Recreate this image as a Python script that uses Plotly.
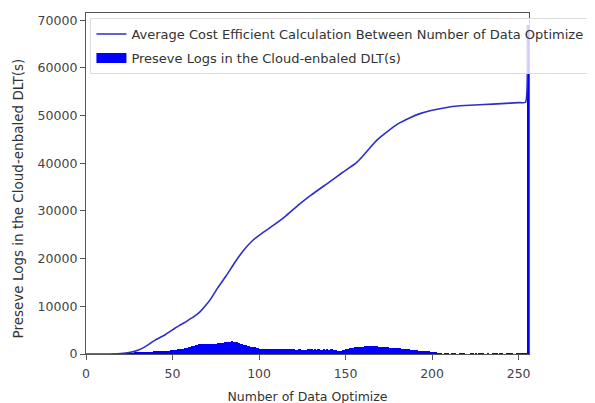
import plotly.graph_objects as go

# Histogram counts per bin (bins 0..255)
hist_counts = [
    # 0-15
    0, 0, 0, 0, 0, 0, 0, 0, 0, 0, 0, 0, 0, 0, 0, 0,
    # 16-31
    0, 0, 0, 0, 20, 40, 60, 90, 120, 150, 180, 210, 240, 270, 300, 330,
    # 32-47
    360, 390, 420, 450, 480, 500, 520, 540, 560, 580, 600, 620, 640, 660, 680, 700,
    # 48-63
    730, 760, 800, 850, 900, 950, 1000, 1050, 1100, 1200, 1300, 1400, 1500, 1600, 1700, 1800,
    # 64-79
    1900, 2000, 2050, 2100, 2100, 2150, 2100, 2150, 2200, 2150, 2200, 2200, 2250, 2300, 2350, 2400,
    # 80-95
    2450, 2500, 2550, 2600, 2650, 2600, 2550, 2450, 2300, 2150, 2000, 1900, 1800, 1700, 1600, 1550,
    # 96-111
    1500, 1400, 1300, 1200, 1150, 1100, 1050, 1000, 1000, 1000, 1050, 1000, 1050, 1000, 1000, 950,
    # 112-127
    1000, 950, 950, 1000, 950, 1000, 1000, 950, 950, 900, 900, 950, 900, 900, 850, 900,
    # 128-143
    950, 950, 950, 900, 950, 900, 950, 900, 900, 950, 900, 950, 900, 1000, 950, 850,
    # 144-159
    750, 650, 650, 700, 800, 900, 1000, 1100, 1200, 1300, 1350, 1400, 1450, 1500, 1500, 1550,
    # 160-175
    1550, 1600, 1600, 1650, 1650, 1700, 1650, 1650, 1600, 1550, 1500, 1450, 1450, 1400, 1400, 1350,
    # 176-191
    1350, 1300, 1300, 1250, 1250, 1200, 1150, 1100, 1050, 1000, 950, 900, 850, 800, 750, 750,
    # 192-207
    700, 700, 650, 650, 650, 600, 550, 500, 400, 300, 250, 200, 180, 150, 0, 180,
    # 208-223
    180, 170, 0, 160, 150, 150, 0, 0, 170, 160, 150, 0, 0, 0, 150, 160,
    # 224-239
    0, 150, 0, 160, 150, 150, 0, 0, 160, 0, 0, 150, 170, 160, 0, 150,
    # 240-255
    150, 0, 0, 120, 130, 120, 100, 0, 0, 110, 150, 120, 100, 100, 150, 69000,
]
hist_bins = list(range(len(hist_counts)))

# Line (normalized cumulative)
line_x = [0, 10, 20, 25, 30, 34, 37, 40, 43, 46, 48, 51, 54, 57, 60, 63, 66, 69, 72, 76,
          81, 86, 91, 96, 102, 108, 115, 123, 130, 140, 148, 156, 160, 164, 168, 173,
          180, 187, 193, 200, 210, 219, 230, 240, 250, 254, 255]
line_y = [0, 0, 100, 300, 800, 1500, 2200, 2900, 3500, 4100, 4600, 5300, 6000, 6600, 7300,
          8000, 8900, 10100, 11500, 13800, 16400, 19200, 21700, 23700, 25400, 26900, 28800,
          31300, 33300, 35900, 38000, 40000, 41500, 43200, 44800, 46300, 48200, 49500,
          50400, 51100, 51800, 52100, 52300, 52500, 52700, 52800, 69000]

y_ticks = [0, 10000, 20000, 30000, 40000, 50000, 60000, 70000]
x_ticks = [0, 50, 100, 150, 200, 250]

line_name = "Average Cost Efficient Calculation Between Number of Data Optimize"
bar_name = "Preseve Logs in the Cloud-enbaled DLT(s)"
x_title = "Number of Data Optimize"
y_title = "Preseve Logs in the Cloud-enbaled DLT(s)"

fig = go.Figure()
fig.add_trace(go.Bar(
    x=[b + 0.5 for b in hist_bins], y=hist_counts, width=1.0,
    marker=dict(color="#0000ff", line=dict(width=0)),
    name=bar_name, showlegend=False,
))
fig.add_trace(go.Scatter(
    x=line_x, y=line_y, mode="lines",
    line=dict(color="#2e2ec8", width=1.6, shape="spline", smoothing=0.4),
    name=line_name, legendgroup="a", legendrank=1,
))
# legend entry for the histogram (wide patch like the reference)
fig.add_trace(go.Scatter(
    x=[None], y=[None], mode="lines",
    line=dict(color="#0000ff", width=10),
    name=bar_name, legendgroup="b", legendrank=2,
))

font_family = "DejaVu Sans, sans-serif"
fig.update_layout(
    width=595, height=403,
    margin=dict(l=78, r=74, t=5, b=57, autoexpand=False),
    paper_bgcolor="white", plot_bgcolor="white",
    bargap=0,
    showlegend=True,
    font=dict(family=font_family, size=12, color="#333333"),
    legend=dict(
        x=0.01, y=0.985, xanchor="left", yanchor="top",
        bgcolor="rgba(255,255,255,0.8)", bordercolor="#dddddd", borderwidth=1,
        font=dict(size=13, color="#333333"),
        tracegroupgap=4, itemwidth=30,
    ),
    xaxis=dict(
        range=[0, 256], tickvals=x_ticks, ticks="outside", ticklen=5,
        tickcolor="#555555", showline=True, linecolor="#555555", linewidth=1.3, mirror=True,
        showgrid=False, zeroline=False, automargin=False, ticklabelstandoff=3,
        title=dict(text=x_title, font=dict(size=12.5), standoff=12),
        tickfont=dict(size=12.5, color="#444444"),
    ),
    yaxis=dict(
        range=[0, 71500], tickvals=y_ticks, tickformat="d", ticks="outside", ticklen=5,
        tickcolor="#555555", showline=True, linecolor="#555555", linewidth=1.3, mirror=True,
        showgrid=False, zeroline=False, automargin=False,
        tickfont=dict(size=12.5, color="#444444"),
    ),
    annotations=[dict(
        text=y_title, textangle=-90, xref="paper", yref="paper",
        x=-0.1535, y=0.456, xanchor="center", yanchor="middle", showarrow=False,
        font=dict(size=13.5, color="#333333"),
    )],
)

fig.write_html("out.html")
